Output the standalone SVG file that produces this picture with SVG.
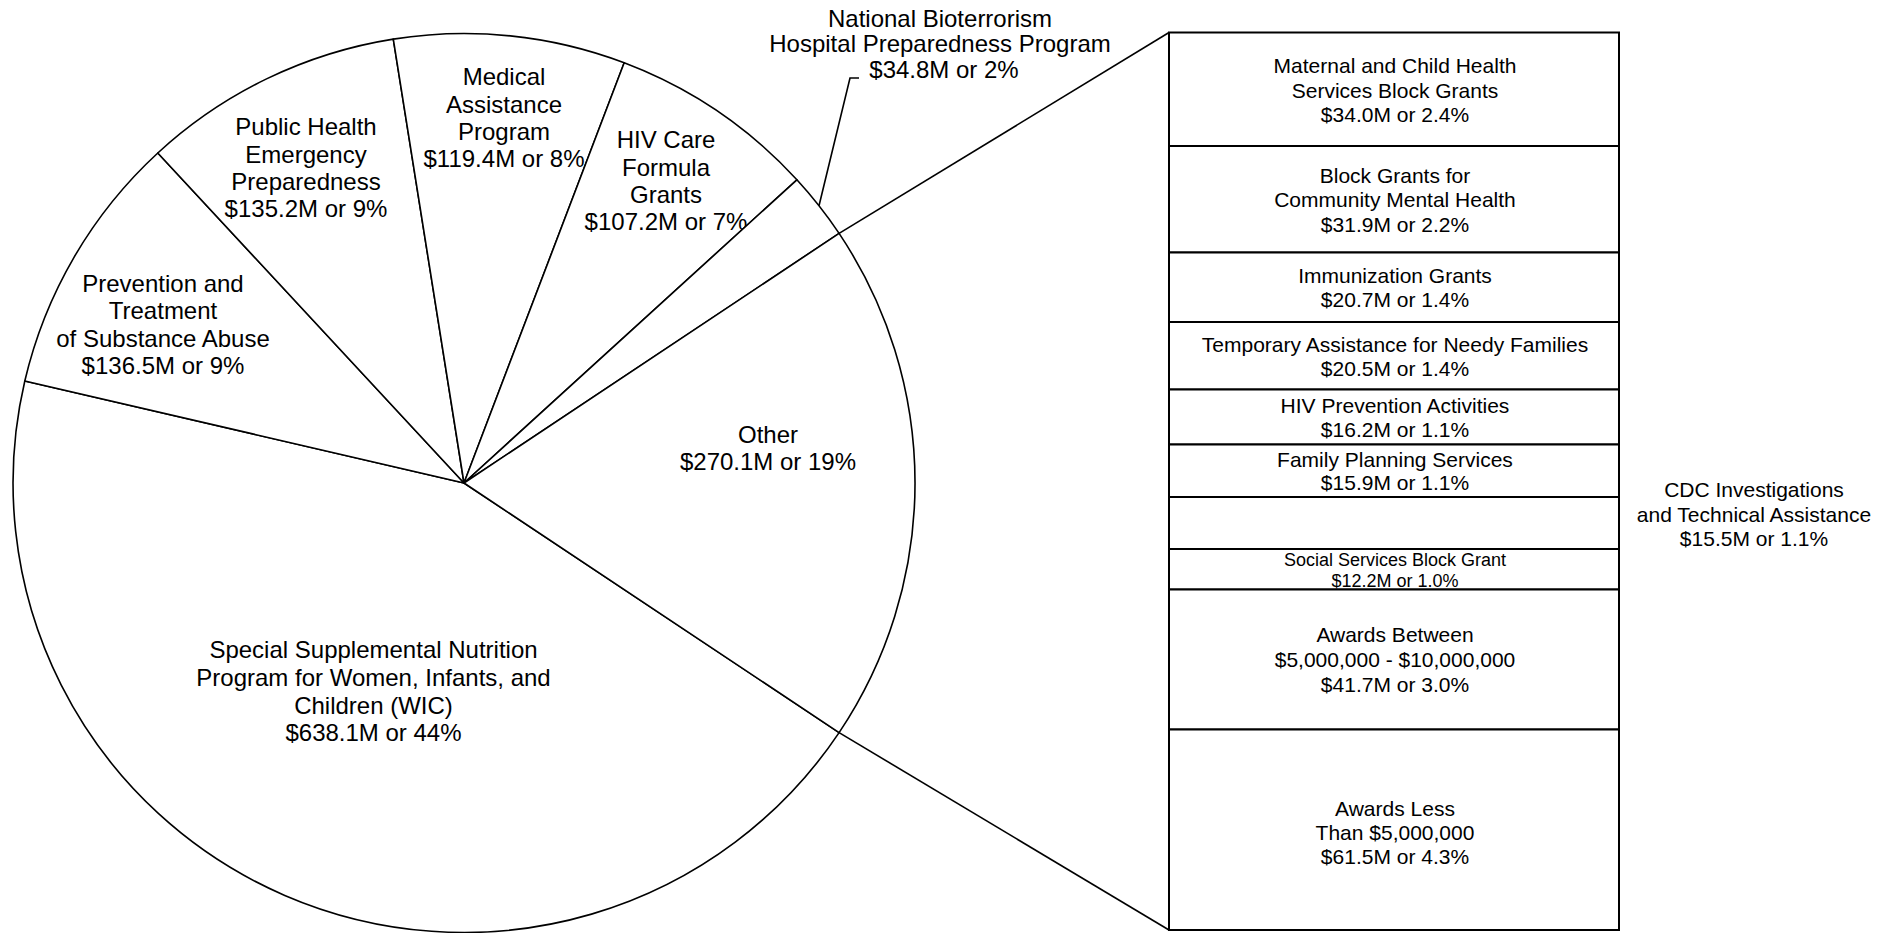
<svg xmlns="http://www.w3.org/2000/svg" width="1887" height="933" viewBox="0 0 1887 933">
<style>
.slice{fill:#fff;stroke:#000;stroke-width:1.6;stroke-linejoin:round}
.row{fill:#fff;stroke:#000;stroke-width:2}
.conn{fill:none;stroke:#000;stroke-width:1.6}
text{font-family:"Liberation Sans",Arial,sans-serif;fill:#000;text-anchor:middle}
.pl{font-size:24px}
.bl{font-size:21px}
.sl{font-size:18px}
</style>
<rect width="1887" height="933" fill="#fff"/>
<g id="slice-wic">
<path class="slice" d="M464,483 L839.1,732.6 A451,449.5 0 0 1 24.8,381 Z"/>
<text class="pl" x="373.5" y="658">Special Supplemental Nutrition</text>
<text class="pl" x="373.5" y="686">Program for Women, Infants, and</text>
<text class="pl" x="373.5" y="714">Children (WIC)</text>
<text class="pl" x="373.5" y="741">$638.1M or 44%</text>
</g>
<g id="slice-prevention">
<path class="slice" d="M464,483 L24.8,381 A451,449.5 0 0 1 157.8,153 Z"/>
<text class="pl" x="163" y="292">Prevention and</text>
<text class="pl" x="163" y="319">Treatment</text>
<text class="pl" x="163" y="347">of Substance Abuse</text>
<text class="pl" x="163" y="374">$136.5M or 9%</text>
</g>
<g id="slice-public-health">
<path class="slice" d="M464,483 L157.8,153 A451,449.5 0 0 1 393.3,39.1 Z"/>
<text class="pl" x="306" y="135">Public Health</text>
<text class="pl" x="306" y="163">Emergency</text>
<text class="pl" x="306" y="190">Preparedness</text>
<text class="pl" x="306" y="217">$135.2M or 9%</text>
</g>
<g id="slice-medical">
<path class="slice" d="M464,483 L393.3,39.1 A451,449.5 0 0 1 624.2,62.8 Z"/>
<text class="pl" x="504" y="85">Medical</text>
<text class="pl" x="504" y="112.5">Assistance</text>
<text class="pl" x="504" y="140">Program</text>
<text class="pl" x="504" y="167">$119.4M or 8%</text>
</g>
<g id="slice-hiv-care">
<path class="slice" d="M464,483 L624.2,62.8 A451,449.5 0 0 1 796.9,179.8 Z"/>
<text class="pl" x="666" y="148">HIV Care</text>
<text class="pl" x="666" y="175.5">Formula</text>
<text class="pl" x="666" y="203">Grants</text>
<text class="pl" x="666" y="230">$107.2M or 7%</text>
</g>
<g id="slice-national">
<path class="slice" d="M464,483 L796.9,179.8 A451,449.5 0 0 1 839.1,233.4 Z"/>
<text class="pl" x="940" y="26.5">National Bioterrorism</text>
<text class="pl" x="940" y="52">Hospital Preparedness Program</text>
<text class="pl" x="944" y="78">$34.8M or 2%</text>
</g>
<g id="slice-other">
<path class="slice" d="M464,483 L839.1,233.4 A451,449.5 0 0 1 839.1,732.6 Z"/>
<text class="pl" x="768" y="443">Other</text>
<text class="pl" x="768" y="470">$270.1M or 19%</text>
</g>
<g id="connectors">
<line class="conn" x1="839.1" y1="233.4" x2="1169" y2="32.5"/>
<line class="conn" x1="839.1" y1="732.6" x2="1169" y2="930"/>
<polyline class="conn" points="819,205.8 850,78 859,78"/>
</g>
<g id="row-maternal">
<rect class="row" x="1169" y="32.5" width="450" height="113.5"/>
<text class="bl" x="1395" y="73.3">Maternal and Child Health</text>
<text class="bl" x="1395" y="97.5">Services Block Grants</text>
<text class="bl" x="1395" y="121.7">$34.0M or 2.4%</text>
</g>
<g id="row-mental-health">
<rect class="row" x="1169" y="146" width="450" height="106.5"/>
<text class="bl" x="1395" y="182.7">Block Grants for</text>
<text class="bl" x="1395" y="207.2">Community Mental Health</text>
<text class="bl" x="1395" y="231.7">$31.9M or 2.2%</text>
</g>
<g id="row-immunization">
<rect class="row" x="1169" y="252.5" width="450" height="69.5"/>
<text class="bl" x="1395" y="282.7">Immunization Grants</text>
<text class="bl" x="1395" y="307.3">$20.7M or 1.4%</text>
</g>
<g id="row-tanf">
<rect class="row" x="1169" y="322" width="450" height="67.5"/>
<text class="bl" x="1395" y="351.7">Temporary Assistance for Needy Families</text>
<text class="bl" x="1395" y="376">$20.5M or 1.4%</text>
</g>
<g id="row-hiv-prevention">
<rect class="row" x="1169" y="389.5" width="450" height="55"/>
<text class="bl" x="1395" y="412.7">HIV Prevention Activities</text>
<text class="bl" x="1395" y="437.3">$16.2M or 1.1%</text>
</g>
<g id="row-family-planning">
<rect class="row" x="1169" y="444.5" width="450" height="52.5"/>
<text class="bl" x="1395" y="466.5">Family Planning Services</text>
<text class="bl" x="1395" y="490">$15.9M or 1.1%</text>
</g>
<g id="row-cdc">
<rect class="row" x="1169" y="497" width="450" height="52"/>
<text class="bl" x="1754" y="496.7">CDC Investigations</text>
<text class="bl" x="1754" y="521.5">and Technical Assistance</text>
<text class="bl" x="1754" y="546">$15.5M or 1.1%</text>
</g>
<g id="row-social-services">
<rect class="row" x="1169" y="549" width="450" height="40.5"/>
<text class="sl" x="1395" y="566">Social Services Block Grant</text>
<text class="sl" x="1395" y="587">$12.2M or 1.0%</text>
</g>
<g id="row-awards-between">
<rect class="row" x="1169" y="589.5" width="450" height="140"/>
<text class="bl" x="1395" y="641.7">Awards Between</text>
<text class="bl" x="1395" y="666.5">$5,000,000 - $10,000,000</text>
<text class="bl" x="1395" y="691.5">$41.7M or 3.0%</text>
</g>
<g id="row-awards-less">
<rect class="row" x="1169" y="729.5" width="450" height="200.5"/>
<text class="bl" x="1395" y="816">Awards Less</text>
<text class="bl" x="1395" y="840">Than $5,000,000</text>
<text class="bl" x="1395" y="864">$61.5M or 4.3%</text>
</g>
</svg>
